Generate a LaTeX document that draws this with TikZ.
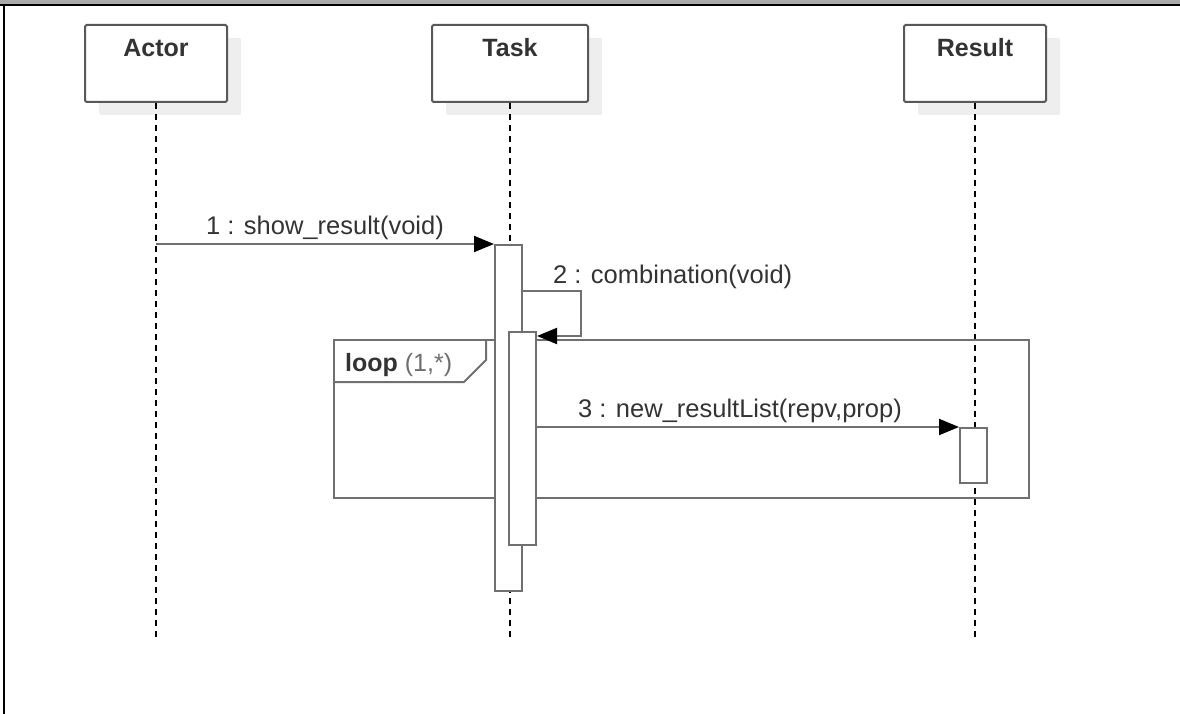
\documentclass[tikz,border=0pt]{standalone}
\usepackage{fontspec}
\setmainfont{Liberation Sans}
\usetikzlibrary{arrows.meta, shadows, positioning}
\definecolor{linegray}{RGB}{112,112,112}
\definecolor{boxgray}{RGB}{88,88,88}
\definecolor{textgray}{RGB}{51,51,51}
\definecolor{parengray}{RGB}{110,110,110}
\definecolor{shadegray}{RGB}{238,238,238}
\definecolor{bargray}{RGB}{170,170,170}
\tikzstyle{headbox} = [rectangle, rounded corners=1.5pt, draw=boxgray, fill=white,
                       line width=2pt, minimum width=142pt, minimum height=77pt,
                       inner sep=0pt,
                       drop shadow={shadow xshift=14pt, shadow yshift=-13pt,
                                    fill=shadegray, opacity=1}]
\tikzstyle{headtext} = [anchor=base, inner sep=0pt, text=textgray,
                        font=\fontsize{25}{30}\selectfont\bfseries]
\tikzstyle{actbox} = [rectangle, draw=linegray, fill=white, line width=2pt,
                      minimum width=27pt, inner sep=0pt]
\tikzstyle{lifeline} = [black, line width=1.3pt, dash pattern=on 6pt off 5pt]
\tikzstyle{msg} = [draw=linegray, line width=2pt,
                   -{Triangle[length=20pt, width=16pt, color=black]}]
\tikzstyle{msgtext} = [anchor=base, inner sep=0pt, text=textgray,
                       font=\fontsize{25.5}{30}\selectfont]

\begin{document}
\begin{tikzpicture}[x=1pt, y=-1pt]
        \useasboundingbox (0,0) rectangle (1180,714);

        % page frame
        \fill[bargray] (0,0) rectangle (1180,4);
        \draw[black, line width=2.5pt] (0,5) -- (1180,5);
        \draw[black, line width=2.5pt] (4,5) -- (4,714);

        % heads
        \node (Actor) [headbox] at (156,63.5) {};
        \node (Task) [headbox, minimum width=156pt] at (510,63.5) {};
        \node (Result) [headbox] at (975,63.5) {};
        \node (ActorName) [headtext] at ([yshift=-33pt]Actor.north) {Actor};
        \node (TaskName) [headtext] at ([yshift=-33pt]Task.north) {Task};
        \node (ResultName) [headtext] at ([yshift=-33pt]Result.north) {Result};

        % lifelines
        \coordinate (ActorEnd) at (156,640);
        \coordinate (TaskEnd) at (510,640);
        \coordinate (ResultEnd) at (975,640);
        \draw[lifeline] (Actor.south) -- (ActorEnd);
        \draw[lifeline] (Task.south) -- (TaskEnd);
        \draw[lifeline] (Result.south) -- (ResultEnd);

        % loop fragment
        \node (Loop) [rectangle, draw=linegray, line width=2pt, inner sep=0pt,
                      minimum width=695pt, minimum height=158pt] at (681.5,419) {};
        \draw[linegray, line width=2pt] ([yshift=-43pt]Loop.north west) -- ++(131,0)
              -- ++(22,-22) -- ++(0,-21);
        \node (LoopText) [anchor=base west, inner sep=0pt, text=textgray,
                          font=\fontsize{25}{30}\selectfont]
              at (345,371) {\textbf{loop} \textcolor{parengray}{(1,*)}};

        % activations
        \node (Act1) [actbox, minimum height=346pt] at (508.5,418) {};
        \node (Act2) [actbox, minimum height=213pt] at (522.5,438.5) {};
        \node (Act3) [actbox, minimum height=55pt] at (973.5,455.5) {};

        % messages
        \draw[msg] (Actor |- Act1.north) -- node[msgtext, yshift=10pt] (Msg1) {1 : show\_result(void)}
              (Act1.north west);
        \draw[msg] ([yshift=-47pt]Act1.north east) -- ++(58,0) |- ([yshift=-5pt]Act2.north east);
        \node (Msg2) [msgtext, anchor=base west] at (553,283) {2 : combination(void)};
        \draw[msg] (Act2.east |- Act3.north) -- node[msgtext, yshift=10pt, xshift=-8pt] (Msg3)
              {3 : new\_resultList(repv,prop)} (Act3.north west);

\end{tikzpicture}
\end{document}
